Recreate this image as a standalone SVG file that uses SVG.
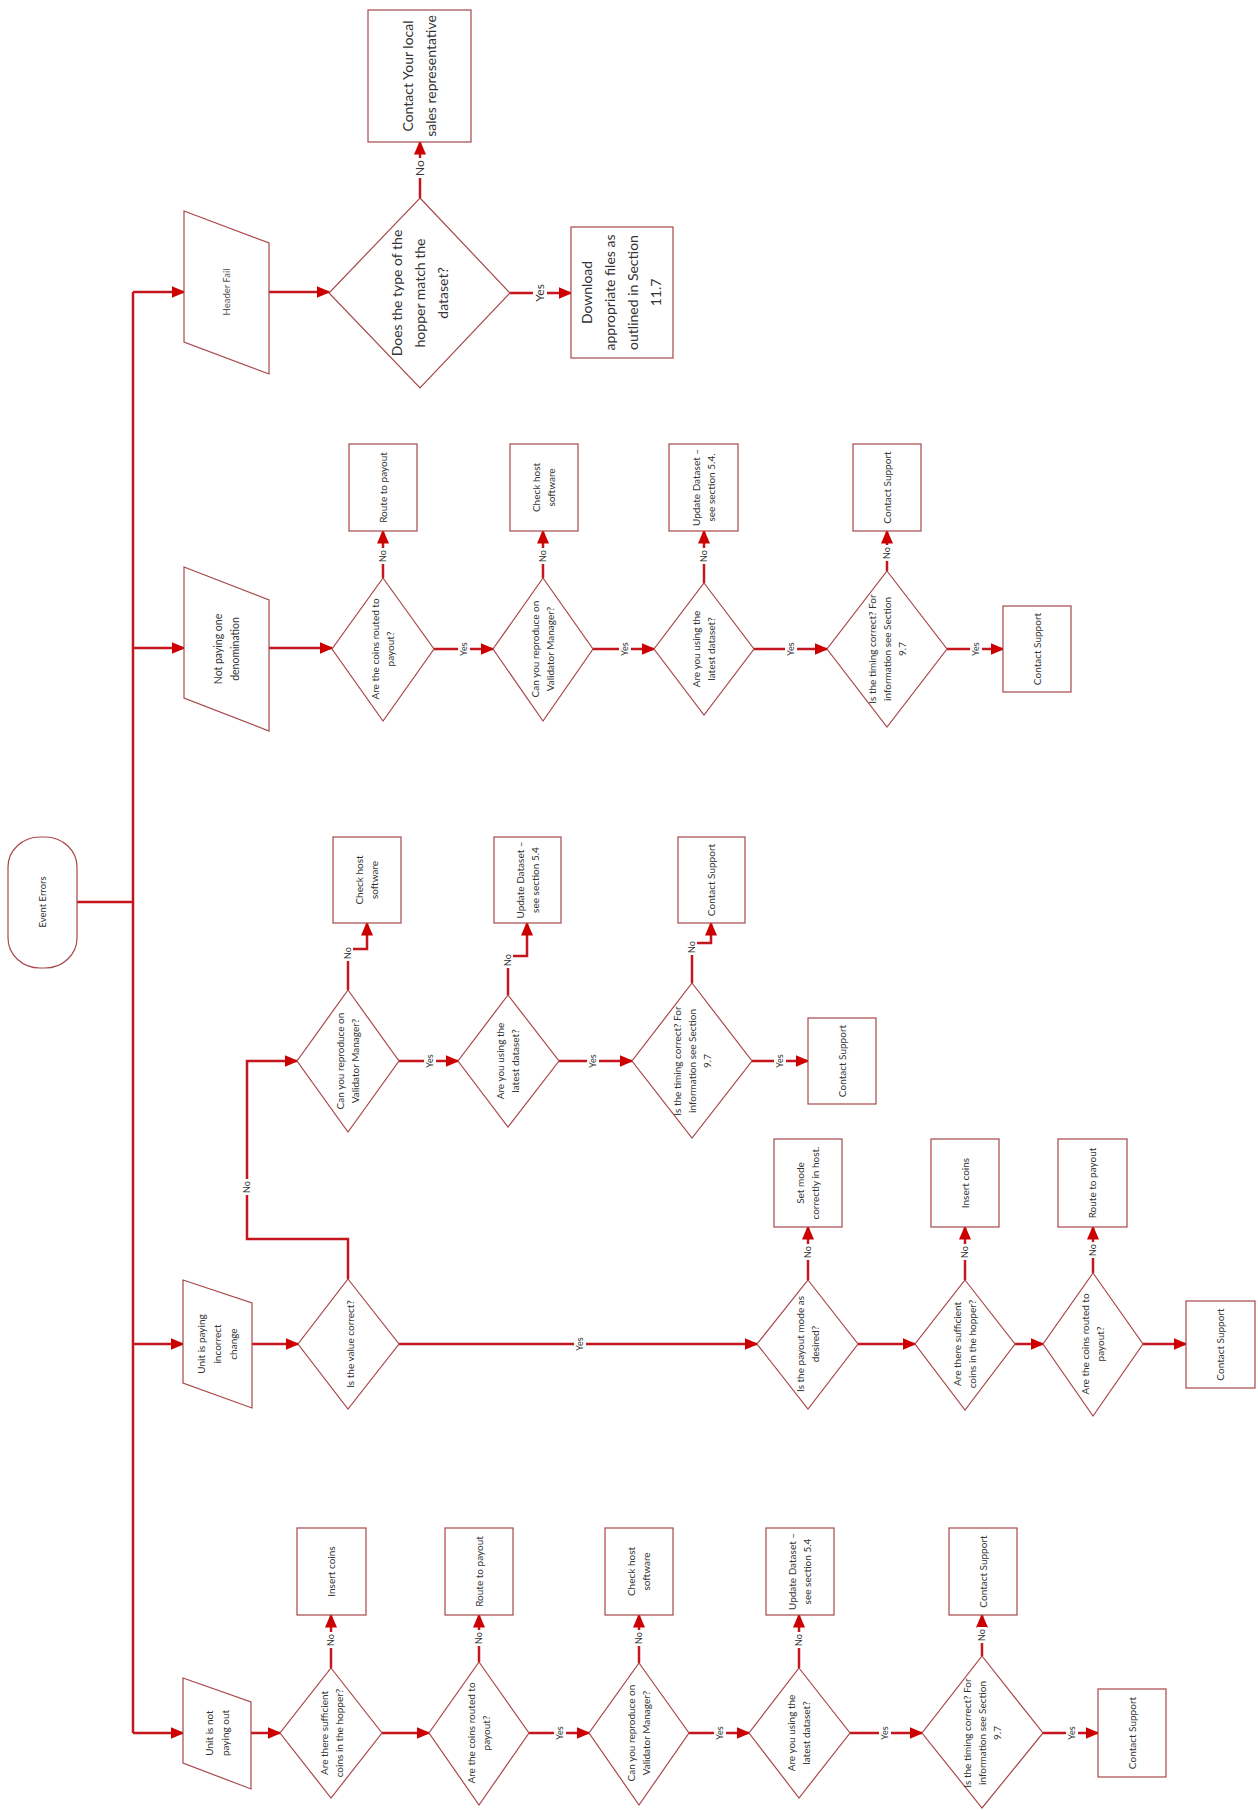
<svg xmlns="http://www.w3.org/2000/svg" width="1258" height="1810" viewBox="0 0 1258 1810">
<style>
.c{fill:none;stroke:#c4161c;stroke-width:2.5}
.s{fill:#fff;stroke:#a8474a;stroke-width:1.2}
.t{font-family:Lato,"Liberation Sans",sans-serif;font-size:10px;fill:#333;text-anchor:middle}
.b{font-size:14px}
.lb{fill:#fff;stroke:none}
.l{font-family:Lato,"Liberation Sans",sans-serif;font-size:9px;fill:#333;text-anchor:middle}
.l1{font-size:12px}
</style>
<defs>
<marker id="ah" markerUnits="userSpaceOnUse" viewBox="0 0 14 12" markerWidth="14" markerHeight="12" refX="12.5" refY="6" orient="auto">
<path d="M0,0 L14,6 L0,12 z" fill="#cc0000"/>
</marker>
</defs>
<rect width="1258" height="1810" fill="#fff"/>

<g id="connectors">
<path class="c" d="M77,902 H133"/>
<path class="c" d="M133,292 V1733"/>
<!-- row 1 -->
<path class="c" marker-end="url(#ah)" d="M133,292 H184"/>
<path class="c" marker-end="url(#ah)" d="M269,292 H329"/>
<path class="c" marker-end="url(#ah)" d="M420,198 V142"/>
<path class="c" marker-end="url(#ah)" d="M510,293 H571"/>
<!-- row 2 -->
<path class="c" marker-end="url(#ah)" d="M133,648 H184"/>
<path class="c" marker-end="url(#ah)" d="M269,648 H332"/>
<path class="c" marker-end="url(#ah)" d="M383,578 V531"/>
<path class="c" marker-end="url(#ah)" d="M434,649 H493"/>
<path class="c" marker-end="url(#ah)" d="M543,578 V531"/>
<path class="c" marker-end="url(#ah)" d="M593,649 H654"/>
<path class="c" marker-end="url(#ah)" d="M704,583 V531"/>
<path class="c" marker-end="url(#ah)" d="M754,649 H827"/>
<path class="c" marker-end="url(#ah)" d="M887,571 V531"/>
<path class="c" marker-end="url(#ah)" d="M947,649 H1003"/>
<!-- row 2b -->
<path class="c" marker-end="url(#ah)" d="M348,1279 V1239 H247 V1061 H297"/>
<path class="c" marker-end="url(#ah)" d="M348,990 V949 H367 V923"/>
<path class="c" marker-end="url(#ah)" d="M399,1061 H458"/>
<path class="c" marker-end="url(#ah)" d="M508,995 V956 H527 V923"/>
<path class="c" marker-end="url(#ah)" d="M559,1061 H632"/>
<path class="c" marker-end="url(#ah)" d="M692,983 V943 H711 V923"/>
<path class="c" marker-end="url(#ah)" d="M752,1061 H808"/>
<!-- row 3 -->
<path class="c" marker-end="url(#ah)" d="M133,1344 H183"/>
<path class="c" marker-end="url(#ah)" d="M252,1344 H298"/>
<path class="c" marker-end="url(#ah)" d="M399,1344 H757"/>
<path class="c" marker-end="url(#ah)" d="M808,1280 V1227"/>
<path class="c" marker-end="url(#ah)" d="M858,1344 H915"/>
<path class="c" marker-end="url(#ah)" d="M965,1280 V1227"/>
<path class="c" marker-end="url(#ah)" d="M1015,1344 H1043"/>
<path class="c" marker-end="url(#ah)" d="M1093,1273 V1227"/>
<path class="c" marker-end="url(#ah)" d="M1143,1344 H1186"/>
<!-- row 4 -->
<path class="c" marker-end="url(#ah)" d="M133,1733 H183"/>
<path class="c" marker-end="url(#ah)" d="M251,1733 H280"/>
<path class="c" marker-end="url(#ah)" d="M331,1668 V1615"/>
<path class="c" marker-end="url(#ah)" d="M382,1733 H429"/>
<path class="c" marker-end="url(#ah)" d="M479,1662 V1615"/>
<path class="c" marker-end="url(#ah)" d="M529,1733 H589"/>
<path class="c" marker-end="url(#ah)" d="M639,1663 V1615"/>
<path class="c" marker-end="url(#ah)" d="M689,1733 H749"/>
<path class="c" marker-end="url(#ah)" d="M799,1668 V1615"/>
<path class="c" marker-end="url(#ah)" d="M850,1733 H922"/>
<path class="c" marker-end="url(#ah)" d="M982,1656 V1615"/>
<path class="c" marker-end="url(#ah)" d="M1043,1733 H1098"/>

<g id="labels">
<!-- row 1 -->
<rect class="lb" x="413" y="158" width="14" height="20"/><text class="l l1" transform="translate(420,168) rotate(-90)" y="4.2">No</text>
<rect class="lb" x="533" y="280" width="14" height="26"/><text class="l l1" transform="translate(540,293) rotate(-90)" y="4.2">Yes</text>
<!-- row 2 -->
<rect class="lb" x="378" y="548" width="10" height="16"/><text class="l" transform="translate(383,556) rotate(-90)" y="3.2">No</text>
<rect class="lb" x="458" y="640" width="12" height="18"/><text class="l" transform="translate(464,649) rotate(-90)" y="3.2">Yes</text>
<rect class="lb" x="538" y="548" width="10" height="16"/><text class="l" transform="translate(543,556) rotate(-90)" y="3.2">No</text>
<rect class="lb" x="619" y="640" width="12" height="18"/><text class="l" transform="translate(625,649) rotate(-90)" y="3.2">Yes</text>
<rect class="lb" x="699" y="548" width="10" height="16"/><text class="l" transform="translate(704,556) rotate(-90)" y="3.2">No</text>
<rect class="lb" x="785" y="640" width="12" height="18"/><text class="l" transform="translate(791,649) rotate(-90)" y="3.2">Yes</text>
<rect class="lb" x="882" y="545" width="10" height="16"/><text class="l" transform="translate(887,553) rotate(-90)" y="3.2">No</text>
<rect class="lb" x="970" y="640" width="12" height="18"/><text class="l" transform="translate(976,649) rotate(-90)" y="3.2">Yes</text>
<!-- row 2b -->
<rect class="lb" x="242" y="1179" width="10" height="16"/><text class="l" transform="translate(247,1187) rotate(-90)" y="3.2">No</text>
<rect class="lb" x="343" y="945" width="10" height="16"/><text class="l" transform="translate(348,953) rotate(-90)" y="3.2">No</text>
<rect class="lb" x="424" y="1052" width="12" height="18"/><text class="l" transform="translate(430,1061) rotate(-90)" y="3.2">Yes</text>
<rect class="lb" x="503" y="952" width="10" height="16"/><text class="l" transform="translate(508,960) rotate(-90)" y="3.2">No</text>
<rect class="lb" x="587" y="1052" width="12" height="18"/><text class="l" transform="translate(593,1061) rotate(-90)" y="3.2">Yes</text>
<rect class="lb" x="687" y="939" width="10" height="16"/><text class="l" transform="translate(692,947) rotate(-90)" y="3.2">No</text>
<rect class="lb" x="774" y="1052" width="12" height="18"/><text class="l" transform="translate(780,1061) rotate(-90)" y="3.2">Yes</text>
<!-- row 3 -->
<rect class="lb" x="574" y="1333" width="12" height="22"/><text class="l" transform="translate(580,1344) rotate(-90)" y="3.2">Yes</text>
<rect class="lb" x="803" y="1244" width="10" height="16"/><text class="l" transform="translate(808,1252) rotate(-90)" y="3.2">No</text>
<rect class="lb" x="960" y="1244" width="10" height="16"/><text class="l" transform="translate(965,1252) rotate(-90)" y="3.2">No</text>
<rect class="lb" x="1088" y="1242" width="10" height="16"/><text class="l" transform="translate(1093,1250) rotate(-90)" y="3.2">No</text>
<!-- row 4 -->
<rect class="lb" x="326" y="1632" width="10" height="16"/><text class="l" transform="translate(331,1640) rotate(-90)" y="3.2">No</text>
<rect class="lb" x="474" y="1630" width="10" height="16"/><text class="l" transform="translate(479,1638) rotate(-90)" y="3.2">No</text>
<rect class="lb" x="554" y="1724" width="12" height="18"/><text class="l" transform="translate(560,1733) rotate(-90)" y="3.2">Yes</text>
<rect class="lb" x="634" y="1630" width="10" height="16"/><text class="l" transform="translate(639,1638) rotate(-90)" y="3.2">No</text>
<rect class="lb" x="714" y="1724" width="12" height="18"/><text class="l" transform="translate(720,1733) rotate(-90)" y="3.2">Yes</text>
<rect class="lb" x="794" y="1632" width="10" height="16"/><text class="l" transform="translate(799,1640) rotate(-90)" y="3.2">No</text>
<rect class="lb" x="879" y="1724" width="12" height="18"/><text class="l" transform="translate(885,1733) rotate(-90)" y="3.2">Yes</text>
<rect class="lb" x="977" y="1627" width="10" height="16"/><text class="l" transform="translate(982,1635) rotate(-90)" y="3.2">No</text>
<rect class="lb" x="1066" y="1724" width="12" height="18"/><text class="l" transform="translate(1072,1733) rotate(-90)" y="3.2">Yes</text>
</g>
</g>

<!-- start -->
<g id="event-errors">
<rect class="s" x="8" y="837" width="69" height="131" rx="32" ry="30"/>
<text class="t" transform="translate(42.5,902) rotate(-90)" style="font-size:9.5px" y="3.3">Event Errors</text>
</g>

<!-- row 1 -->
<g id="header-fail">
<polygon class="s" points="184,211 269,243 269,374 184,342"/>
<text class="t" transform="translate(226.5,292) rotate(-90)" style="font-size:9.5px;fill:#555" y="3.3">Header Fail</text>
</g>
<g id="q-hopper-type">
<polygon class="s" points="420,198 510,293 420,388 329,293"/>
<text class="t b" transform="translate(420,293) rotate(-90)"><tspan x="0" y="-18.1">Does the type of the</tspan><tspan x="0" y="4.9">hopper match the</tspan><tspan x="0" y="27.9">dataset?</tspan></text>
</g>
<g id="contact-sales">
<rect class="s" x="368" y="10" width="103" height="132"/>
<text class="t b" transform="translate(419.5,76) rotate(-90)"><tspan x="0" y="-6.6">Contact Your local</tspan><tspan x="0" y="16.4">sales representative</tspan></text>
</g>
<g id="download-files">
<rect class="s" x="571" y="227" width="102" height="131"/>
<text class="t b" transform="translate(622,292.5) rotate(-90)"><tspan x="0" y="-29.6">Download</tspan><tspan x="0" y="-6.6">appropriate files as</tspan><tspan x="0" y="16.4">outlined in Section</tspan><tspan x="0" y="39.4">11.7</tspan></text>
</g>

<!-- row 2 -->
<g id="not-paying-one">
<polygon class="s" points="184,567 269,600 269,731 184,698"/>
<text class="t" transform="translate(226.5,649) rotate(-90)" style="font-size:10.5px"><tspan x="0" y="-4.8">Not paying one</tspan><tspan x="0" y="12.2">denomination</tspan></text>
</g>
<g id="r2-q-routed">
<polygon class="s" points="383,578 434,649 383,721 332,649"/>
<text class="t" transform="translate(383,649) rotate(-90)"><tspan x="0" y="-4">Are the coins routed to</tspan><tspan x="0" y="11">payout?</tspan></text>
</g>
<g id="r2-route">
<rect class="s" x="349" y="444" width="68" height="87"/>
<text class="t" transform="translate(383,487.5) rotate(-90)" y="3.5">Route to payout</text>
</g>
<g id="r2-q-reproduce">
<polygon class="s" points="543,578 593,649 543,721 493,649"/>
<text class="t" transform="translate(543,649) rotate(-90)"><tspan x="0" y="-4">Can you reproduce on</tspan><tspan x="0" y="11">Validator Manager?</tspan></text>
</g>
<g id="r2-check-host">
<rect class="s" x="510" y="444" width="68" height="87"/>
<text class="t" transform="translate(544,487.5) rotate(-90)"><tspan x="0" y="-4">Check host</tspan><tspan x="0" y="11">software</tspan></text>
</g>
<g id="r2-q-latest">
<polygon class="s" points="704,583 754,649 704,715 654,649"/>
<text class="t" transform="translate(704,649) rotate(-90)"><tspan x="0" y="-4">Are you using the</tspan><tspan x="0" y="11">latest dataset?</tspan></text>
</g>
<g id="r2-update">
<rect class="s" x="669" y="444" width="69" height="87"/>
<text class="t" transform="translate(703.5,487.5) rotate(-90)"><tspan x="0" y="-4">Update Dataset –</tspan><tspan x="0" y="11">see section 5.4.</tspan></text>
</g>
<g id="r2-q-timing">
<polygon class="s" points="887,571 947,649 887,727 827,649"/>
<text class="t" transform="translate(887,649) rotate(-90)"><tspan x="0" y="-11.5">Is the timing correct? For</tspan><tspan x="0" y="3.5">information see Section</tspan><tspan x="0" y="18.5">9.7</tspan></text>
</g>
<g id="r2-support-no">
<rect class="s" x="853" y="444" width="68" height="87"/>
<text class="t" transform="translate(887,487.5) rotate(-90)" y="3.5">Contact Support</text>
</g>
<g id="r2-support-yes">
<rect class="s" x="1003" y="606" width="68" height="86"/>
<text class="t" transform="translate(1037,649) rotate(-90)" y="3.5">Contact Support</text>
</g>

<!-- row 2b -->
<g id="r2b-q-reproduce">
<polygon class="s" points="348,990 399,1061 348,1132 297,1061"/>
<text class="t" transform="translate(348,1061) rotate(-90)"><tspan x="0" y="-4">Can you reproduce on</tspan><tspan x="0" y="11">Validator Manager?</tspan></text>
</g>
<g id="r2b-check-host">
<rect class="s" x="333" y="837" width="68" height="86"/>
<text class="t" transform="translate(367,880) rotate(-90)"><tspan x="0" y="-4">Check host</tspan><tspan x="0" y="11">software</tspan></text>
</g>
<g id="r2b-q-latest">
<polygon class="s" points="508,995 559,1061 508,1127 458,1061"/>
<text class="t" transform="translate(508,1061) rotate(-90)"><tspan x="0" y="-4">Are you using the</tspan><tspan x="0" y="11">latest dataset?</tspan></text>
</g>
<g id="r2b-update">
<rect class="s" x="494" y="837" width="67" height="86"/>
<text class="t" transform="translate(527.5,880) rotate(-90)"><tspan x="0" y="-4">Update Dataset –</tspan><tspan x="0" y="11">see section 5.4</tspan></text>
</g>
<g id="r2b-q-timing">
<polygon class="s" points="692,983 752,1061 692,1138 632,1061"/>
<text class="t" transform="translate(692,1061) rotate(-90)"><tspan x="0" y="-11.5">Is the timing correct? For</tspan><tspan x="0" y="3.5">information see Section</tspan><tspan x="0" y="18.5">9.7</tspan></text>
</g>
<g id="r2b-support-no">
<rect class="s" x="678" y="837" width="67" height="86"/>
<text class="t" transform="translate(711.5,880) rotate(-90)" y="3.5">Contact Support</text>
</g>
<g id="r2b-support-yes">
<rect class="s" x="808" y="1018" width="68" height="86"/>
<text class="t" transform="translate(842,1061) rotate(-90)" y="3.5">Contact Support</text>
</g>

<!-- row 3 -->
<g id="incorrect-change">
<polygon class="s" points="183,1280 252,1303 252,1408 183,1383"/>
<text class="t" transform="translate(217.5,1344) rotate(-90)"><tspan x="0" y="-12.5">Unit is paying</tspan><tspan x="0" y="3.5">incorrect</tspan><tspan x="0" y="19.5">change</tspan></text>
</g>
<g id="r3-q-value">
<polygon class="s" points="348,1279 399,1344 348,1409 298,1344"/>
<text class="t" transform="translate(350,1344) rotate(-90)" y="3.5">Is the value correct?</text>
</g>
<g id="r3-q-mode">
<polygon class="s" points="808,1280 858,1344 808,1409 757,1344"/>
<text class="t" transform="translate(808,1344) rotate(-90)"><tspan x="0" y="-4">Is the payout mode as</tspan><tspan x="0" y="11">desired?</tspan></text>
</g>
<g id="r3-set-mode">
<rect class="s" x="774" y="1139" width="68" height="88"/>
<text class="t" transform="translate(808,1183) rotate(-90)"><tspan x="0" y="-4">Set mode</tspan><tspan x="0" y="11">correctly in host.</tspan></text>
</g>
<g id="r3-q-sufficient">
<polygon class="s" points="965,1280 1015,1344 965,1410 915,1344"/>
<text class="t" transform="translate(965,1344) rotate(-90)"><tspan x="0" y="-4">Are there sufficient</tspan><tspan x="0" y="11">coins in the hopper?</tspan></text>
</g>
<g id="r3-insert">
<rect class="s" x="931" y="1139" width="68" height="88"/>
<text class="t" transform="translate(965,1183) rotate(-90)" y="3.5">Insert coins</text>
</g>
<g id="r3-q-routed">
<polygon class="s" points="1093,1273 1143,1344 1093,1416 1043,1344"/>
<text class="t" transform="translate(1093,1344) rotate(-90)"><tspan x="0" y="-4">Are the coins routed to</tspan><tspan x="0" y="11">payout?</tspan></text>
</g>
<g id="r3-route">
<rect class="s" x="1058" y="1139" width="69" height="88"/>
<text class="t" transform="translate(1092.5,1183) rotate(-90)" y="3.5">Route to payout</text>
</g>
<g id="r3-support">
<rect class="s" x="1186" y="1301" width="69" height="87"/>
<text class="t" transform="translate(1220.5,1344.5) rotate(-90)" y="3.5">Contact Support</text>
</g>

<!-- row 4 -->
<g id="not-paying-out">
<polygon class="s" points="183,1678 251,1702 251,1789 183,1763"/>
<text class="t" transform="translate(217,1733) rotate(-90)"><tspan x="0" y="-4.5">Unit is not</tspan><tspan x="0" y="11.5">paying out</tspan></text>
</g>
<g id="r4-q-sufficient">
<polygon class="s" points="331,1668 382,1733 331,1798 280,1733"/>
<text class="t" transform="translate(332,1733) rotate(-90)"><tspan x="0" y="-4">Are there sufficient</tspan><tspan x="0" y="11">coins in the hopper?</tspan></text>
</g>
<g id="r4-insert">
<rect class="s" x="297" y="1528" width="69" height="87"/>
<text class="t" transform="translate(331.5,1571.5) rotate(-90)" y="3.5">Insert coins</text>
</g>
<g id="r4-q-routed">
<polygon class="s" points="479,1662 529,1733 479,1805 429,1733"/>
<text class="t" transform="translate(479,1733) rotate(-90)"><tspan x="0" y="-4">Are the coins routed to</tspan><tspan x="0" y="11">payout?</tspan></text>
</g>
<g id="r4-route">
<rect class="s" x="445" y="1528" width="68" height="87"/>
<text class="t" transform="translate(479,1571.5) rotate(-90)" y="3.5">Route to payout</text>
</g>
<g id="r4-q-reproduce">
<polygon class="s" points="639,1663 689,1733 639,1805 589,1733"/>
<text class="t" transform="translate(639,1733) rotate(-90)"><tspan x="0" y="-4">Can you reproduce on</tspan><tspan x="0" y="11">Validator Manager?</tspan></text>
</g>
<g id="r4-check-host">
<rect class="s" x="605" y="1528" width="68" height="87"/>
<text class="t" transform="translate(639,1571.5) rotate(-90)"><tspan x="0" y="-4">Check host</tspan><tspan x="0" y="11">software</tspan></text>
</g>
<g id="r4-q-latest">
<polygon class="s" points="799,1668 850,1733 799,1798 749,1733"/>
<text class="t" transform="translate(799,1733) rotate(-90)"><tspan x="0" y="-4">Are you using the</tspan><tspan x="0" y="11">latest dataset?</tspan></text>
</g>
<g id="r4-update">
<rect class="s" x="766" y="1528" width="68" height="87"/>
<text class="t" transform="translate(800,1571.5) rotate(-90)"><tspan x="0" y="-4">Update Dataset –</tspan><tspan x="0" y="11">see section 5.4</tspan></text>
</g>
<g id="r4-q-timing">
<polygon class="s" points="982,1656 1043,1733 982,1808 922,1733"/>
<text class="t" transform="translate(982,1733) rotate(-90)"><tspan x="0" y="-11.5">Is the timing correct? For</tspan><tspan x="0" y="3.5">information see Section</tspan><tspan x="0" y="18.5">9.7</tspan></text>
</g>
<g id="r4-support-no">
<rect class="s" x="949" y="1528" width="68" height="87"/>
<text class="t" transform="translate(983,1571.5) rotate(-90)" y="3.5">Contact Support</text>
</g>
<g id="r4-support-yes">
<rect class="s" x="1098" y="1689" width="68" height="88"/>
<text class="t" transform="translate(1132,1733) rotate(-90)" y="3.5">Contact Support</text>
</g>
</svg>
